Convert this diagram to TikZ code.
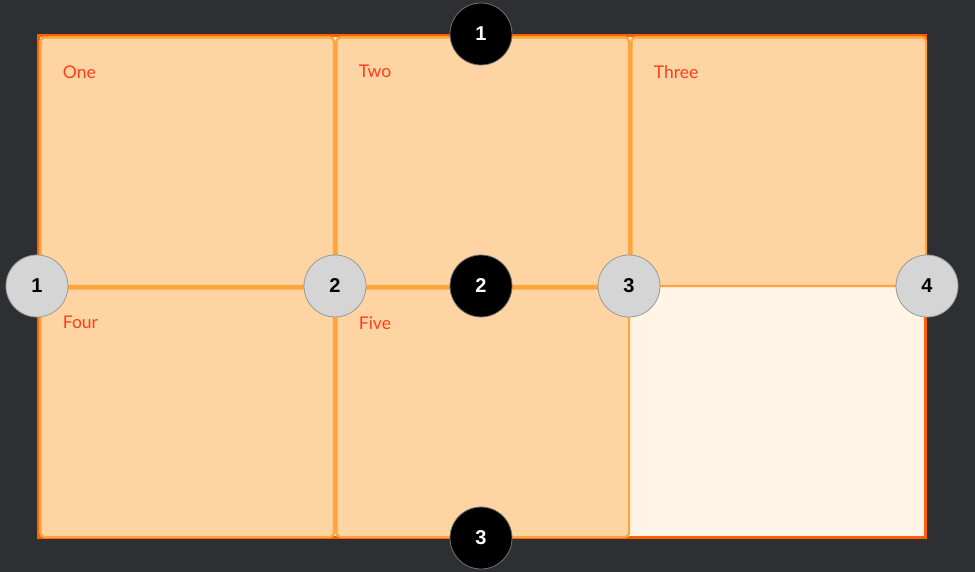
\documentclass[tikz,border=0pt]{standalone}
\usepackage{fontspec}
\setmainfont{Lato}
\newfontfamily\numfont{Liberation Sans}
\usetikzlibrary{positioning}

\definecolor{bgdark}{HTML}{2E2F33}
\definecolor{peach}{HTML}{FED5A2}
\definecolor{cellline}{HTML}{FFA53D}
\definecolor{outerline}{HTML}{FF5F00}
\definecolor{cream}{HTML}{FFF4E5}
\definecolor{lblred}{HTML}{FF3C1E}
\definecolor{markgray}{HTML}{D5D5D5}

\begin{document}
\begin{tikzpicture}[x=1pt, y=-1pt,
      node distance=29pt and 23.5pt,
      cell/.style={draw=cellline, fill=peach, line width=2.4pt, rounded corners=4pt,
                   anchor=north west, inner sep=0pt, minimum width=293.6pt, minimum height=248.6pt},
      lbl/.style={anchor=north west, inner sep=0pt, text=lblred, font=\fontsize{17.5}{20}\selectfont},
      linemark/.style={circle, draw=black!40, line width=0.8pt, fill=markgray,
                       minimum size=62pt, inner sep=0pt, font=\numfont\bfseries\fontsize{20}{22}\selectfont},
      trackmark/.style={linemark, fill=black, text=white, draw=black!55}]
    % page and grid container
    \fill[bgdark] (0,0) rectangle (975,572);
    \useasboundingbox (0,0) rectangle (975,572);
    \draw[outerline, line width=3pt, fill=cream] (38.5,35.5) rectangle (925.5,537.5);
    % items
    \node[cell] (one) at (39.2,36.2) {};
    \node[cell, minimum width=292.6pt] (two) at (335.2,36.2) {};
    \node[cell, minimum width=294.6pt] (three) at (630.2,36.2) {};
    \node[cell] (four) at (39.2,287.2) {};
    \node[cell, minimum width=292.6pt] (five) at (335.2,287.2) {};
    \node[lbl, below right=of one.north west] {One};
    \node[lbl, below right=of two.north west] {Two};
    \node[lbl, below right=of three.north west] {Three};
    \node[lbl, below right=of four.north west] {Four};
    \node[lbl, below right=of five.north west] {Five};
    % column lines
    \node[linemark] (col1) at (37,286) {1};
    \node[linemark] (col2) at (335,286) {2};
    \node[linemark] (col3) at (629,286) {3};
    \node[linemark] (col4) at (927,286) {4};
    % row lines
    \node[trackmark] (row1) at (481,34) {1};
    \node[trackmark] (row2) at (481,286) {2};
    \node[trackmark] (row3) at (481,538) {3};
  \end{tikzpicture}
\end{document}
